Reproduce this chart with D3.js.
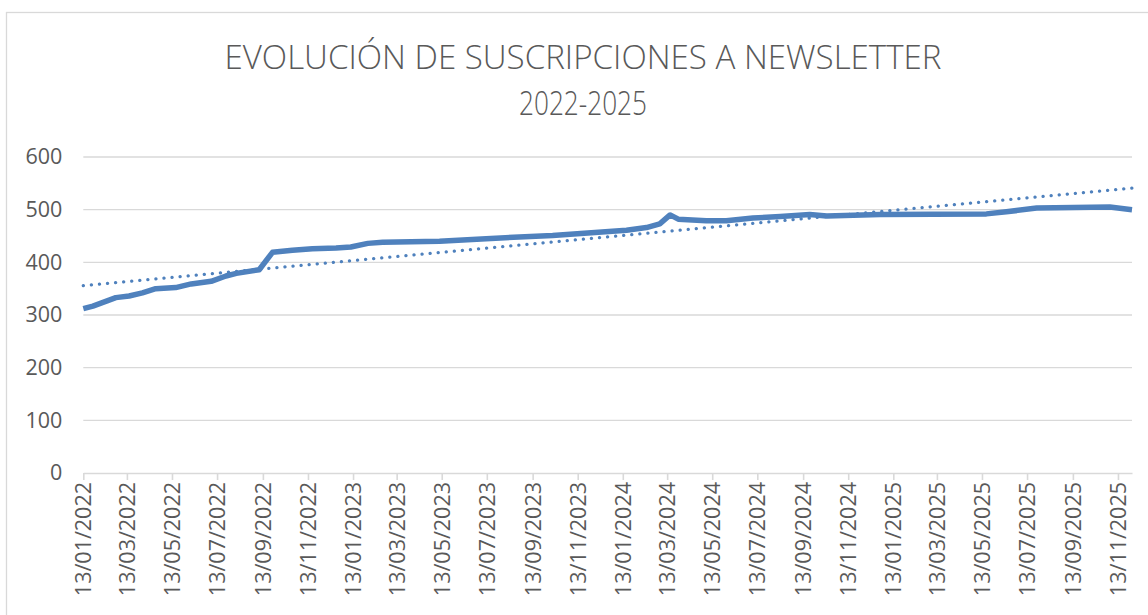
<!DOCTYPE html>
<html>
<head>
<meta charset="utf-8">
<script src="https://cdn.jsdelivr.net/npm/d3@7"></script>
<style>
  html, body { margin: 0; padding: 0; background: #fff; }
  svg { display: block; }
  text { font-family: "Open Sans", "Noto Sans", sans-serif; fill: #595959; }
</style>
</head>
<body>
<svg id="chart" width="1148" height="615"></svg>
<script>
// Subscriber counts over time
const dates = [
  "2022-01-13","2022-01-26","2022-02-26","2022-03-16","2022-04-03","2022-04-21",
  "2022-05-18","2022-06-08","2022-07-05","2022-07-25","2022-08-08","2022-09-08",
  "2022-09-26","2022-10-23","2022-11-19","2022-12-21","2023-01-10","2023-02-02",
  "2023-02-22","2023-05-10","2023-07-12","2023-10-10","2024-01-18","2024-02-14",
  "2024-03-03","2024-03-17","2024-03-28","2024-05-05","2024-06-01","2024-07-07",
  "2024-08-13","2024-09-22","2024-10-15","2024-12-26","2025-05-19","2025-06-15",
  "2025-07-26","2025-11-02","2025-12-02"
];
const subscribers = [
  312, 317, 333, 336, 342, 350,
  352, 359, 364, 374, 379, 386,
  419, 423, 426, 427, 429, 436,
  438, 440, 445, 451, 461, 466,
  473, 490, 482, 479, 479, 484,
  487, 491, 488, 491, 492, 496,
  503, 505, 500
];
const yTicks = [0, 100, 200, 300, 400, 500, 600];
const tickDates = [
  "2022-01-13","2022-03-13","2022-05-13","2022-07-13","2022-09-13","2022-11-13",
  "2023-01-13","2023-03-13","2023-05-13","2023-07-13","2023-09-13","2023-11-13",
  "2024-01-13","2024-03-13","2024-05-13","2024-07-13","2024-09-13","2024-11-13",
  "2025-01-13","2025-03-13","2025-05-13","2025-07-13","2025-09-13","2025-11-13"
];
const titleLines = ["EVOLUCIÓN DE SUSCRIPCIONES A NEWSLETTER", "2022-2025"];

const parse = d3.utcParse("%Y-%m-%d");
const fmt = d3.utcFormat("%d/%m/%Y");
const data = dates.map((d, i) => ({ date: parse(d), value: subscribers[i] }));

const svg = d3.select("#chart");
const plot = { left: 83.3, right: 1132, top: 157, bottom: 473 };

// chart frame
svg.append("rect")
  .attr("x", 6.5).attr("y", 12.5)
  .attr("width", 1160).attr("height", 620)
  .attr("fill", "#fff").attr("stroke", "#d9d9d9").attr("stroke-width", 1.3);

const x = d3.scaleUtc()
  .domain(d3.extent(data, d => d.date))
  .range([plot.left, plot.right]);
const y = d3.scaleLinear().domain([0, 600]).range([plot.bottom, plot.top]);

// horizontal gridlines
svg.append("g")
  .selectAll("line")
  .data(yTicks.filter(v => v > 0))
  .join("line")
  .attr("x1", plot.left).attr("x2", plot.right)
  .attr("y1", d => y(d)).attr("y2", d => y(d))
  .attr("stroke", "#d9d9d9").attr("stroke-width", 1.4);

// y axis labels
const yAxis = svg.append("g")
  .attr("transform", `translate(${plot.left},0)`)
  .call(d3.axisLeft(y).tickValues(yTicks).tickSize(0).tickPadding(21));
yAxis.select(".domain").remove();
yAxis.selectAll("text")
  .attr("font-family", "'Open Sans', sans-serif")
  .style("font-size", "21.5px").attr("fill", "#595959");

// x axis with rotated date labels
const xAxis = svg.append("g")
  .attr("transform", `translate(0,${plot.bottom})`)
  .call(d3.axisBottom(x).tickValues(tickDates.map(parse)).tickFormat(fmt)
    .tickSizeInner(7).tickSizeOuter(0).tickPadding(8));
xAxis.select(".domain").attr("stroke", "#d9d9d9").attr("stroke-width", 1.6);
xAxis.selectAll(".tick line").attr("stroke", "#d9d9d9").attr("stroke-width", 1.6);
xAxis.selectAll("text")
  .attr("font-family", "'Open Sans', sans-serif")
  .style("font-size", "21.5px").attr("fill", "#595959")
  .attr("transform", "rotate(-90)")
  .attr("text-anchor", "end")
  .attr("x", -9).attr("y", 0).attr("dy", "0.35em");

// linear trend (least squares on date value)
const xs = data.map(d => +d.date), ys = data.map(d => d.value);
const mx = d3.mean(xs), my = d3.mean(ys);
const slope = d3.sum(xs, (v, i) => (v - mx) * (ys[i] - my)) / d3.sum(xs, v => (v - mx) ** 2);
const icpt = my - slope * mx;
const trend = x.domain().map(dt => ({ date: dt, value: icpt + slope * +dt }));

const line = d3.line().x(d => x(d.date)).y(d => y(d.value));

svg.append("path")
  .datum(trend)
  .attr("d", line)
  .attr("fill", "none")
  .attr("stroke", "#4f81bd")
  .attr("stroke-width", 3.3)
  .attr("stroke-linecap", "round")
  .attr("stroke-dasharray", "0.1 8");

svg.append("path")
  .datum(data)
  .attr("d", line)
  .attr("fill", "none")
  .attr("stroke", "#4f81bd")
  .attr("stroke-width", 5.5)
  .attr("stroke-linejoin", "round");

// title
svg.append("g").selectAll("text")
  .data(titleLines)
  .join("text")
  .attr("x", 583)
  .attr("y", (d, i) => 69 + i * 46)
  .attr("text-anchor", "middle")
  .attr("font-weight", 300)
  .style("font-size", "33px")
  .attr("textLength", (d, i) => i === 0 ? 717 : 128)
  .attr("lengthAdjust", "spacingAndGlyphs")
  .text(d => d);
</script>
</body>
</html>
